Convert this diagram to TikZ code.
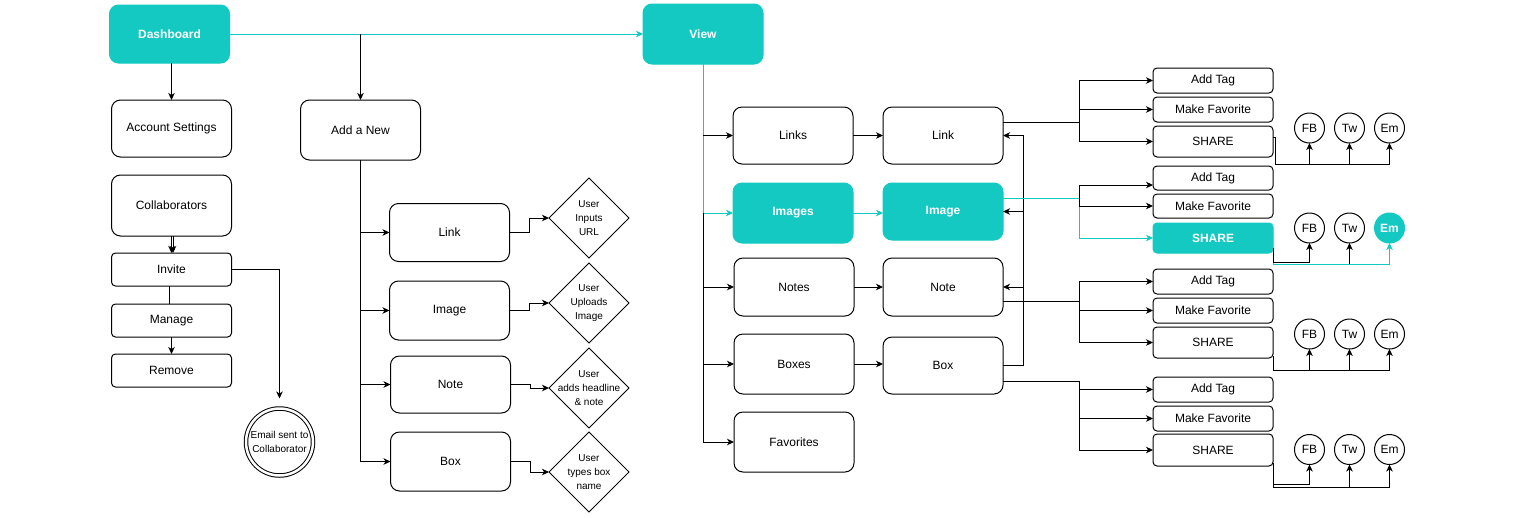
\documentclass[tikz,border=0pt]{standalone}
\usepackage{fontspec}
\setmainfont{Liberation Sans}
\usetikzlibrary{arrows.meta,shapes.geometric,calc}
\definecolor{tealc}{HTML}{13C9C1}
\begin{document}
\begin{tikzpicture}[x=1pt,y=-1pt,
  every node/.style={inner sep=0pt, outer sep=0pt},
  box/.style={draw, line width=1pt, rounded corners=9pt, minimum width=120pt, align=center, font=\fontsize{12}{14}\selectfont},
  sbox/.style={box, rounded corners=4pt},
  tealbox/.style={fill=tealc, draw=tealc, text=white, font=\fontsize{12}{14}\selectfont\bfseries},
  dia/.style={draw, diamond, line width=1pt, minimum width=80pt, minimum height=80pt},
  dlab/.style={font=\fontsize{10}{14}\selectfont, align=center},
  circ/.style={draw, circle, line width=1pt, minimum size=30pt, font=\fontsize{12}{14}\selectfont},
  ln/.style={line width=1pt},
  arr/.style={ln, -{Stealth[length=7pt,width=6.5pt,inset=2pt]}},
  tln/.style={ln, color=tealc},
  tarr/.style={arr, color=tealc}
]
\useasboundingbox (0,0) rectangle (1530,517);

% ---------- left part ----------
\node[box, tealbox, minimum height=58pt] (dash) at (169.5,34) {Dashboard};
\node[box, tealbox, minimum height=60pt] (view) at (703,34) {View};
\node[box, minimum height=57pt] (acct) at (171.5,128.5) {Account Settings};
\node[box, minimum height=60pt] (addnew) at (360.5,130) {Add a New};
\node[box, minimum height=61pt] (collab) at (171.5,205.5) {Collaborators};
\node[sbox, minimum height=33pt] (invite) at (171.5,269.5) {Invite};
\node[sbox, minimum height=33pt] (manage) at (171.5,320.5) {Manage};
\node[sbox, minimum height=33pt] (remove) at (171.5,370.5) {Remove};
\node[draw, circle, double, double distance=2.5pt, line width=1pt, minimum size=67pt,
      label={[dlab]center:Email sent to\\Collaborator}] (email) at (279.5,442) {};

\node[box, minimum height=58pt] (nlink) at (449.5,232.5) {Link};
\node[box, minimum height=59pt] (nimage) at (449.5,310.5) {Image};
\node[box, minimum height=57pt] (nnote) at (450.5,384.5) {Note};
\node[box, minimum height=59pt] (nbox) at (450.5,461.5) {Box};

\node[dia, label={[dlab]center:User\\Inputs\\URL}] (dlink) at (589,218) {};
\node[dia, label={[dlab]center:User\\Uploads\\Image}] (dimage) at (589,303) {};
\node[dia, label={[dlab]center:User\\adds headline\\\& note}] (dnote) at (589,388) {};
\node[dia, label={[dlab]center:User\\types box\\name}] (dbox) at (589,472) {};

\draw[tarr] (dash.east) -- (view.west);
\draw[arr] (addnew.north |- dash.east) -- (addnew.north);
\draw[arr] (acct.north |- dash.south) -- (acct.north);
\draw[arr] (collab.south) -- (invite.north);
\draw[arr] ([xshift=1.5pt]collab.south) -- ([xshift=1.5pt]invite.north);
\draw[ln] ([xshift=-2pt]invite.south) -- ([xshift=-2pt]manage.north);
\draw[arr] (manage.south) -- (remove.north);
\draw[arr] (invite.east) -| ([yshift=10pt]email.north);

\draw[ln] (addnew.south) -- (addnew.south |- nbox.west);
\draw[arr] (addnew.south |- nlink.west) -- (nlink.west);
\draw[arr] (addnew.south |- nimage.west) -- (nimage.west);
\draw[arr] (addnew.south |- nnote.west) -- (nnote.west);
\draw[arr] (addnew.south |- nbox.west) -- (nbox.west);

\draw[arr] (nlink.east) -- ++(20,0) |- (dlink.west);
\draw[arr] (nimage.east) -- ++(20,0) |- (dimage.west);
\draw[arr] (nnote.east) -- ++(20,0) |- (dnote.west);
\draw[arr] (nbox.east) -- ++(20,0) |- (dbox.west);

% ---------- right part ----------
\node[box, minimum height=57pt] (links) at (793,135.5) {Links};
\node[box, tealbox, minimum height=60pt] (images) at (793,213) {Images};
\node[box, minimum height=58pt] (notes) at (794,287) {Notes};
\node[box, minimum height=60pt] (boxes) at (794,364) {Boxes};
\node[box, minimum height=60pt] (favs) at (794,442) {Favorites};

\node[box, minimum height=57pt] (vlink) at (943,135.5) {Link};
\node[box, tealbox, minimum height=57pt] (vimage) at (943,211.5) {Image};
\node[box, minimum height=58pt] (vnote) at (943,287) {Note};
\node[box, minimum height=57pt] (vbox) at (943,365.5) {Box};

\draw[tarr] (view.south) |- (images.west);
\draw[arr] (view.south |- links.west) -- (links.west);
\draw[ln] (view.south |- images.west) -- (view.south |- favs.west);
\draw[arr] (view.south |- notes.west) -- (notes.west);
\draw[arr] (view.south |- boxes.west) -- (boxes.west);
\draw[arr] (view.south |- favs.west) -- (favs.west);

\draw[arr] (links.east) -- (vlink.west);
\draw[tarr] (images.east) -- (vimage.west |- images.east);
\draw[arr] (notes.east) -- (vnote.west);
\draw[arr] (boxes.east) -- (vbox.west |- boxes.east);

\coordinate (back) at (1023,365.5);
\draw[ln] (vbox.east) -- (back);
\draw[arr] (back) |- (vlink.east);
\draw[arr] (back) |- (vimage.east);
\draw[arr] (back) |- (vnote.east);

% action boxes
\node[sbox, minimum height=25pt] (tag1) at (1213,80.5) {Add Tag};
\node[sbox, minimum height=25pt] (fav1) at (1213,109.5) {Make Favorite};
\node[sbox, minimum height=31pt] (share1) at (1213,141.5) {SHARE};
\node[sbox, minimum height=24pt] (tag2) at (1213,178) {Add Tag};
\node[sbox, minimum height=24pt] (fav2) at (1213,206) {Make Favorite};
\node[sbox, tealbox, minimum height=30pt] (share2) at (1213,238) {SHARE};
\node[sbox, minimum height=25pt] (tag3) at (1213,281.5) {Add Tag};
\node[sbox, minimum height=25pt] (fav3) at (1213,310.5) {Make Favorite};
\node[sbox, minimum height=31pt] (share3) at (1213,342.5) {SHARE};
\node[sbox, minimum height=25pt] (tag4) at (1213,389.5) {Add Tag};
\node[sbox, minimum height=25pt] (fav4) at (1213,418.5) {Make Favorite};
\node[sbox, minimum height=32pt] (share4) at (1213,450) {SHARE};

% share targets
\node[circ] (fb1) at (1309.5,128) {FB};
\node[circ] (tw1) at (1349.5,128) {Tw};
\node[circ] (em1) at (1389.5,128) {Em};
\node[circ] (fb2) at (1309.5,228) {FB};
\node[circ] (tw2) at (1349.5,228) {Tw};
\node[circ, fill=tealc, draw=tealc, text=white, font=\fontsize{12}{14}\selectfont\bfseries] (em2) at (1389.5,228) {Em};
\node[circ] (fb3) at (1309.5,334) {FB};
\node[circ] (tw3) at (1349.5,334) {Tw};
\node[circ] (em3) at (1389.5,334) {Em};
\node[circ] (fb4) at (1309.5,449.5) {FB};
\node[circ] (tw4) at (1349.5,449.5) {Tw};
\node[circ] (em4) at (1389.5,449.5) {Em};

% group 1 (Link)
\coordinate (j1) at (1079,122);
\draw[ln] ([yshift=13.5pt]vlink.east) -- (j1);
\draw[arr] (j1) |- (tag1.west);
\draw[arr] (j1) |- (fav1.west);
\draw[arr] (j1) |- (share1.west);

% group 2 (Image)
\coordinate (j2) at (1079,198);
\draw[tarr] ([yshift=13.5pt]vimage.east) -- (j2) |- (share2.west);
\draw[arr] (j2) |- ([yshift=-7pt]tag2.west);
\draw[arr] (j2) |- (fav2.west);

% group 3 (Note)
\coordinate (j3) at (1079,301);
\draw[ln] ([yshift=-14pt]vnote.east) -- (j3);
\draw[arr] (j3) |- (tag3.west);
\draw[arr] (j3) |- (fav3.west);
\draw[arr] (j3) |- (share3.west);

% group 4 (Box)
\coordinate (j4) at (1079,381);
\draw[ln] ([yshift=-15.5pt]vbox.east) -- (j4);
\draw[arr] (j4) |- (tag4.west);
\draw[arr] (j4) |- (fav4.west);
\draw[arr] (j4) |- (share4.west);

% share -> FB/Tw/Em
\coordinate (b1) at (1389.5,164);
\draw[ln] ([yshift=4.5pt]share1.east) -- ++(2.5,0) |- (b1);
\draw[arr] (fb1.south |- b1) -- (fb1.south);
\draw[arr] (tw1.south |- b1) -- (tw1.south);
\draw[arr] (b1) -- (em1.south);

\coordinate (b2a) at (1309.5,262);
\coordinate (b2b) at (1389.5,264);
\draw[tarr] ([yshift=-10pt]share2.east) |- (b2b) -- (em2.south);
\draw[arr] ([yshift=-10pt]share2.east) |- (b2a) -- (fb2.south);
\draw[arr] (tw2.south |- b2b) -- (tw2.south);

\coordinate (b3) at (1389.5,370);
\draw[ln] ([yshift=-13pt]share3.east) |- (b3);
\draw[arr] (fb3.south |- b3) -- (fb3.south);
\draw[arr] (tw3.south |- b3) -- (tw3.south);
\draw[arr] (b3) -- (em3.south);

\coordinate (b4a) at (1309.5,484);
\coordinate (b4b) at (1389.5,487);
\draw[arr] ([yshift=-13pt]share4.east) |- (b4a) -- (fb4.south);
\draw[arr] ([yshift=-13pt]share4.east) |- (b4b) -- (em4.south);
\draw[arr] (tw4.south |- b4b) -- (tw4.south);
\end{tikzpicture}
\end{document}
